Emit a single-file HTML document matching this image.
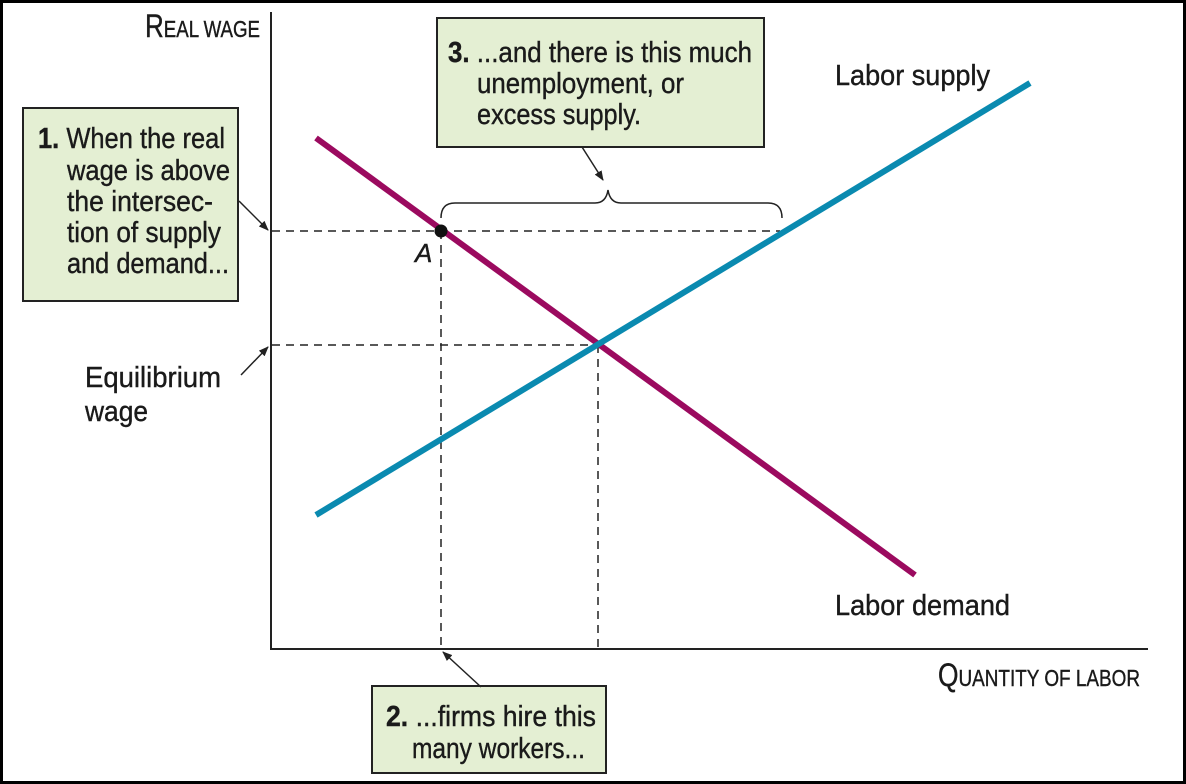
<!DOCTYPE html>
<html><head><meta charset="utf-8"><style>
html,body{margin:0;padding:0;background:#fff}
svg{display:block}
text{font-family:"Liberation Sans",sans-serif;fill:#1a1a1a;stroke:#1a1a1a;stroke-width:0.4}
</style></head><body>
<svg width="1186" height="784" viewBox="0 0 1186 784" xmlns="http://www.w3.org/2000/svg">
<defs><marker id="ar" markerWidth="10" markerHeight="8" refX="9" refY="4" orient="auto" markerUnits="userSpaceOnUse"><path d="M0,0 L10,4 L0,8 Z" fill="#222"/></marker></defs>
<rect x="1.5" y="1.5" width="1183" height="781" fill="#fff" stroke="#000" stroke-width="3"/>
<line x1="271" y1="12" x2="271" y2="649" stroke="#222" stroke-width="2"/>
<line x1="270" y1="649" x2="1148" y2="649" stroke="#222" stroke-width="2"/>
<g stroke="#222" stroke-width="1.5" stroke-dasharray="8,6" fill="none">
<line x1="272" y1="231" x2="780" y2="231"/>
<line x1="272" y1="345" x2="598" y2="345"/>
<line x1="441" y1="231" x2="441" y2="648"/>
<line x1="598" y1="345" x2="598" y2="648"/>
</g>
<line x1="316" y1="138" x2="915" y2="575" stroke="#9b0a5f" stroke-width="6"/>
<line x1="316" y1="515" x2="1030" y2="83" stroke="#0a8ab0" stroke-width="6"/>
<circle cx="441" cy="231" r="6.5" fill="#111"/>
<text x="415" y="262" font-size="26" font-style="italic">A</text>
<path d="M441,218 Q441,203 455,203 L595,203 Q606,203 608,190 Q610,203 621,203 L768,203 Q782,203 782,218" fill="none" stroke="#222" stroke-width="1.5"/>
<rect x="23" y="108" width="215" height="193" fill="#e4efd3" stroke="#222" stroke-width="2"/>
<rect x="437" y="18" width="327" height="129" fill="#e4efd3" stroke="#222" stroke-width="2"/>
<rect x="372" y="686" width="234" height="87" fill="#e4efd3" stroke="#222" stroke-width="2"/>
<g stroke="#222" stroke-width="1.5" marker-end="url(#ar)">
<line x1="239" y1="201" x2="268" y2="230"/>
<line x1="241" y1="375" x2="268" y2="347"/>
<line x1="582" y1="147" x2="603" y2="180"/>
<line x1="481" y1="687" x2="443" y2="652"/>
</g>
<g font-size="29">
<text x="145" y="37" textLength="115" lengthAdjust="spacingAndGlyphs"><tspan font-size="32">R</tspan><tspan font-size="23">EAL WAGE</tspan></text>
<text x="938" y="686" textLength="202" lengthAdjust="spacingAndGlyphs"><tspan font-size="32">Q</tspan><tspan font-size="23">UANTITY OF LABOR</tspan></text>
<text x="38" y="148" textLength="187" lengthAdjust="spacingAndGlyphs"><tspan font-weight="bold">1.</tspan> When the real</text>
<text x="67" y="180" textLength="163" lengthAdjust="spacingAndGlyphs">wage is above</text>
<text x="67" y="211" textLength="146" lengthAdjust="spacingAndGlyphs">the intersec-</text>
<text x="67" y="242" textLength="154" lengthAdjust="spacingAndGlyphs">tion of supply</text>
<text x="67" y="273" textLength="162" lengthAdjust="spacingAndGlyphs">and demand...</text>
<text x="448" y="62" textLength="304" lengthAdjust="spacingAndGlyphs"><tspan font-weight="bold">3.</tspan> ...and there is this much</text>
<text x="477" y="93" textLength="207" lengthAdjust="spacingAndGlyphs">unemployment, or</text>
<text x="477" y="124" textLength="164" lengthAdjust="spacingAndGlyphs">excess supply.</text>
<text x="386" y="726" textLength="210" lengthAdjust="spacingAndGlyphs"><tspan font-weight="bold">2.</tspan> ...firms hire this</text>
<text x="412" y="758" textLength="173" lengthAdjust="spacingAndGlyphs">many workers...</text>
<text x="85" y="387" textLength="136" lengthAdjust="spacingAndGlyphs">Equilibrium</text>
<text x="85" y="421" textLength="63" lengthAdjust="spacingAndGlyphs">wage</text>
<text x="835" y="85" textLength="155" lengthAdjust="spacingAndGlyphs">Labor supply</text>
<text x="835" y="615" textLength="175" lengthAdjust="spacingAndGlyphs">Labor demand</text>
</g>
</svg>
</body></html>
